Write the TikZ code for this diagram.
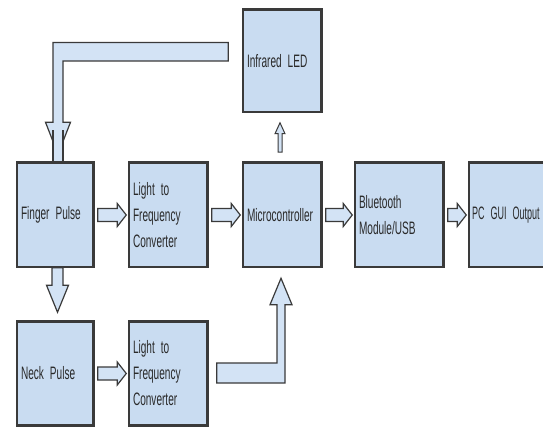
\documentclass[tikz,border=0pt]{standalone}
\usepackage{fontspec}
\usetikzlibrary{calc}
\newfontfamily\nf[FakeStretch=0.56]{Liberation Sans}
\newfontfamily\nfn[FakeStretch=0.5]{Liberation Sans}
\definecolor{boxfill}{HTML}{C9DCF1}
\definecolor{arrfill}{HTML}{D3E3F5}
\definecolor{edge}{HTML}{3A3A3A}
\definecolor{txt}{HTML}{2A2A2A}
\tikzset{
  box/.style={draw=edge, fill=boxfill, line width=1.5pt, inner xsep=4pt, inner ysep=0pt,
    align=left, font=\nf\fontsize{18}{26}\selectfont, text=txt},
  blockarrow/.style={draw=edge, fill=arrfill, line width=1.2pt, line join=miter},
}
\newcommand{\harrow}[2]{%
  \draw[blockarrow] let \p1=($(#1.east)+(4,0)$), \p2=($(#2.west)+(-2,0)$) in
    (\x1,\y1+6.5pt) -- (\x2-9pt,\y1+6.5pt) -- (\x2-9pt,\y1+11.5pt) -- (\x2,\y1)
    -- (\x2-9pt,\y1-11.5pt) -- (\x2-9pt,\y1-6.5pt) -- (\x1,\y1-6.5pt) -- cycle;}
\begin{document}
\begin{tikzpicture}[x=1pt,y=-1pt]
\fill[white] (0,0) rectangle (543,427);
\useasboundingbox (0,0) rectangle (543,427);
% boxes
\node[box, text width=70pt, minimum height=102pt] (ir) at (282,61) {Infrared LED};
\node[box, text width=68pt, minimum height=104pt] (fp) at (55,215) {Finger Pulse};
\node[box, text width=70pt, minimum height=104pt] (lf1) at (168,215) {Light to\\Frequency\\Converter};
\node[box, text width=70pt, minimum height=104pt] (mc) at (282,215) {Microcontroller};
\node[box, text width=80pt, minimum height=104pt] (bt) at (399,215) {Bluetooth\\Module/USB};
\node[box, minimum height=104pt, inner xsep=3pt, text width=84pt, font=\nfn\fontsize{18}{26}\selectfont] (pc) at (514,215) {PC GUI Output};
\node[box, text width=68pt, minimum height=103pt] (np) at (55,373.5) {Neck Pulse};
\node[box, text width=70pt, minimum height=103pt] (lf2) at (168,373.5) {Light to\\Frequency\\Converter};
% horizontal arrows
\harrow{fp}{lf1}
\harrow{lf1}{mc}
\harrow{mc}{bt}
\harrow{bt}{pc}
\harrow{np}{lf2}
% finger -> neck
\draw[blockarrow] let \p1=($(fp.south)+(2.5,0)$), \p2=($(np.north)+(2.5,-9)$) in
  (\x1-5.5pt,\y1) -- (\x1-5.5pt,\y2+27pt) -- (\x1-11pt,\y2+27pt) -- (\x2,\y2)
  -- (\x1+11pt,\y2+27pt) -- (\x1+5.5pt,\y2+27pt) -- (\x1+5.5pt,\y1) -- cycle;
% feedback from infrared LED to finger pulse
\draw[blockarrow] let \p1=($(ir.west)+(-14,0)$), \p2=($(fp.north)+(3,0)$) in
  (\x1,\y1+18.5pt) -- (\x2-5pt,\y1+18.5pt) -- (\x2-5pt,\y2+40pt) -- (\x2-12.5pt,\y2+40pt)
  -- (\x2,\y2+8pt) -- (\x2+12.5pt,\y2+40pt) -- (\x2+5pt,\y2+40pt) -- (\x2+5pt,\y1)
  -- (\x1,\y1) -- cycle;
\fill[arrfill] let \p2=($(fp.north)+(3,0)$) in (\x2-5pt,\y2+32pt) rectangle (\x2+5pt,\y2);
\draw[edge, line width=1.2pt] let \p2=($(fp.north)+(3,0)$) in
  (\x2-5pt,\y2+32pt) -- (\x2-5pt,\y2) (\x2+5pt,\y2+32pt) -- (\x2+5pt,\y2);
% microcontroller -> infrared LED (thin)
\draw[blockarrow, line width=1pt] let \p1=($(mc.north)+(-2,-10)$), \p2=($(ir.south)+(-2,10)$) in
  (\x1-2pt,\y1) -- (\x1-2pt,\y2-11pt) -- (\x1-5pt,\y2-11pt) -- (\x2,\y2)
  -- (\x1+5pt,\y2-11pt) -- (\x1+2pt,\y2-11pt) -- (\x1+2pt,\y1) -- cycle;
% lower converter -> microcontroller (L-shaped)
\draw[blockarrow] let \p1=($(lf2.east)+(9,0)$), \p2=($(mc.south)+(-1,10.5)$) in
  (\x1,\y1+10.5pt) -- (\x2-4pt,\y1+10.5pt) -- (\x2-4pt,\y2-26.5pt) -- (\x2-11pt,\y2-26.5pt)
  -- (\x2,\y2) -- (\x2+11pt,\y2-26.5pt) -- (\x2+4pt,\y2-26.5pt) -- (\x2+4pt,\y1-9.5pt)
  -- (\x1,\y1-9.5pt) -- cycle;
% redraw box borders on top
\foreach \n in {ir,fp,lf1,mc,bt,pc,np,lf2}
  \draw[edge, line width=1.5pt] (\n.north west) rectangle (\n.south east);
\end{tikzpicture}
\end{document}
